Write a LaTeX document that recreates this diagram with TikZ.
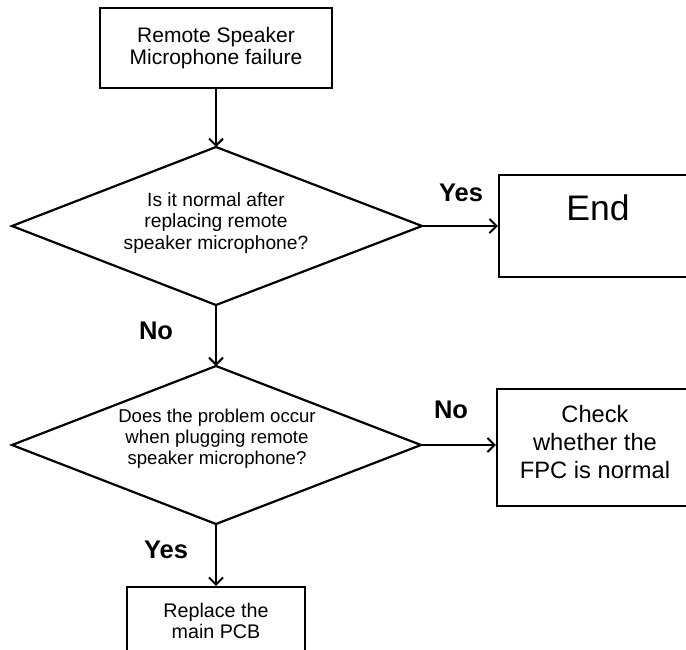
\documentclass[tikz,border=0pt]{standalone}
\usepackage{fontspec}
\setmainfont{Liberation Sans}
\usetikzlibrary{arrows.meta}
\begin{document}
\begin{tikzpicture}[x=1bp,y=-1bp,
  shp/.style={draw=black, line width=2.2bp},
  boxnode/.style={shp, rectangle, inner sep=0pt, align=center},
  conn/.style={draw=black, line width=2bp, -{Straight Barb[length=7bp,width=14bp,line width=2bp]}},
  txt/.style={inner sep=0pt, align=center},
  lbl/.style={inner sep=0pt, font=\fontsize{25.5bp}{30bp}\selectfont\bfseries}]
\useasboundingbox (0,0) rectangle (686,650);
\clip (0,0) rectangle (686,650);
% top box
\node[boxnode, minimum width=232bp, minimum height=80bp,
  font=\fontsize{21bp}{21.5bp}\selectfont] (start) at (216,48) {Remote Speaker\\Microphone failure};
% diamond 1
\coordinate (d1t) at (216,147);
\coordinate (d1r) at (422,226);
\coordinate (d1b) at (216,305);
\coordinate (d1l) at (12,226);
\draw[shp, line join=miter] (d1t) -- (d1r) -- (d1b) -- (d1l) -- cycle;
\node[txt, font=\fontsize{19.2bp}{21.7bp}\selectfont] (q1) at (216,223) {Is it normal after\\replacing remote\\speaker microphone?};
% End box
\node[boxnode, minimum width=198bp, minimum height=102bp] (endb) at (598,226) {};
\node[txt, font=\fontsize{35.5bp}{40bp}\selectfont] (endt) at (598,208) {End};
% diamond 2
\coordinate (d2t) at (216,366);
\coordinate (d2r) at (421,445);
\coordinate (d2b) at (216,524);
\coordinate (d2l) at (12,445);
\draw[shp, line join=miter] (d2t) -- (d2r) -- (d2b) -- (d2l) -- cycle;
\node[txt, font=\fontsize{18.6bp}{21bp}\selectfont] (q2) at (217,439) {Does the problem occur\\when plugging remote\\speaker microphone?};
% FPC box
\node[boxnode, minimum width=196bp, minimum height=117bp] (fpc) at (595,447.5) {};
\node[txt, font=\fontsize{23.7bp}{28bp}\selectfont] (fpct) at (595,442) {Check\\whether the\\FPC is normal};
% PCB box
\node[boxnode, minimum width=178bp, minimum height=68bp,
  font=\fontsize{19.7bp}{21.7bp}\selectfont] (pcb) at (216,621) {Replace the\\main PCB};
% connectors
\draw[conn] (start.south) -- (d1t);
\draw[conn] (d1r) -- (endb.west);
\draw[conn] (d1b) -- (d2t);
\draw[conn] (d2r) -- (d2r -| fpc.west);
\draw[conn] (d2b) -- (pcb.north);
% labels
\node[lbl] (yes1) at (461,193) {Yes};
\node[lbl] (no1) at (156,331) {No};
\node[lbl] (no2) at (451,410) {No};
\node[lbl] (yes2) at (166,550) {Yes};
\end{tikzpicture}
\end{document}
